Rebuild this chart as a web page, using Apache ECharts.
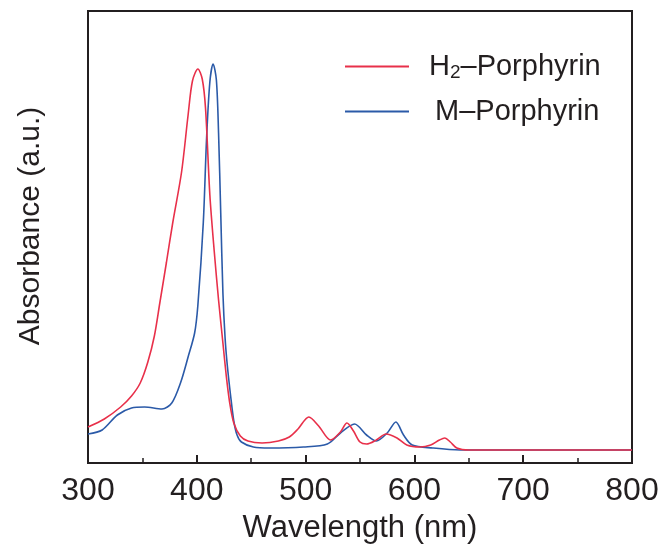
<!DOCTYPE html>
<html>
<head>
<meta charset="utf-8">
<script src="https://cdn.jsdelivr.net/npm/echarts@6/dist/echarts.min.js"></script>
<style>
  html, body { margin: 0; padding: 0; background: #fff; }
  #chart { width: 662px; height: 554px; }
</style>
</head>
<body>
<div id="chart"></div>
<script>
// wavelength (nm) / absorbance (a.u.)
const h2Wavelength = [300, 315, 330, 340, 348, 355, 361, 366, 372, 378, 386, 392, 396, 401, 405, 408, 412, 416, 420, 424, 427, 430, 434, 440, 447, 460, 475, 485, 493, 503, 512, 523, 532, 538, 544, 550, 556, 565, 574, 584, 593, 605, 615, 623, 628, 633, 639, 650, 800];
const h2Absorb = [36, 44, 56, 67, 80, 101, 127, 160, 200, 241, 291, 348, 382, 394, 384, 355, 268, 212, 163, 120, 88, 62, 40, 27, 22, 20, 22, 26, 34, 46, 37, 23, 31, 40, 32, 21, 19, 23, 29, 25, 18, 16, 18, 23, 25, 21, 15, 13, 13];

const mWavelength = [300, 313, 327, 340, 352, 368, 377, 385, 392, 398, 401, 406, 409, 412, 415, 418, 420, 422, 424, 426, 428, 431, 434, 437, 441, 452, 467, 498, 520, 532, 545, 556, 565, 575, 583, 590, 598, 617, 642, 800];
const mAbsorb = [29, 33, 48, 55, 56, 54, 60, 80, 106, 130, 158, 241, 325, 381, 399, 383, 330, 250, 170, 125, 98, 68, 42, 28, 21, 16, 15, 16, 19, 30, 39, 28, 22, 30, 41, 28, 18, 15, 13, 13];

const xTicks = [300, 400, 500, 600, 700, 800];

const chart = echarts.init(document.getElementById('chart'));
const font = 'Liberation Sans, Arial, sans-serif';
const axisColor = '#231f20';

const option = {
    animation: false,
    grid: {
        left: 88, right: 30, top: 11, bottom: 91,
        show: true,
        borderColor: axisColor,
        borderWidth: 2
    },
    legend: [
        {
            data: ['H2'],
            left: 340, top: 47,
            icon: 'rect',
            itemWidth: 64, itemHeight: 2,
            formatter: () => '{n|H}{s|2}{n|–Porphyrin}',
            textStyle: {
                padding: [0, 0, 0, 15],
                rich: {
                    n: { fontSize: 29, fontFamily: font, color: axisColor },
                    s: { fontSize: 19, fontFamily: font, color: axisColor, verticalAlign: 'bottom', padding: [13, 0, 0, 0] }
                }
            }
        },
        {
            data: ['M'],
            left: 340, top: 92,
            icon: 'rect',
            itemWidth: 64, itemHeight: 2,
            formatter: () => 'M–Porphyrin',
            textStyle: { fontSize: 29, fontFamily: font, color: axisColor, padding: [0, 0, 0, 21] }
        }
    ],
    xAxis: {
        type: 'value',
        min: 300, max: 800, interval: 100,
        name: 'Wavelength (nm)',
        nameLocation: 'middle',
        nameGap: 50,
        nameTextStyle: { fontSize: 31, fontFamily: font, color: axisColor },
        axisLine: { lineStyle: { color: axisColor, width: 2 } },
        axisTick: { inside: true, length: 8, lineStyle: { color: axisColor, width: 2 } },
        minorTick: { show: true, splitNumber: 2, length: 5, lineStyle: { color: axisColor, width: 1.5 } },
        axisLabel: {
            fontSize: 32, fontFamily: font, color: axisColor, margin: 12,
            formatter: v => xTicks.includes(v) ? String(v) : ''
        },
        splitLine: { show: false }
    },
    yAxis: {
        type: 'value',
        min: 0, max: 452,
        name: 'Absorbance (a.u.)',
        nameLocation: 'middle',
        nameGap: 42,
        nameTextStyle: { fontSize: 30, fontFamily: font, color: axisColor, padding: [0, 0, 0, 22] },
        axisLine: { show: true, lineStyle: { color: axisColor, width: 2 } },
        axisTick: { show: false },
        axisLabel: { show: false },
        splitLine: { show: false }
    },
    series: [
        {
            name: 'H2',
            type: 'line',
            smooth: 0.3,
            symbol: 'none',
            lineStyle: { color: '#e8304a', width: 1.6 },
            itemStyle: { color: '#e8304a' },
            data: h2Wavelength.map((w, i) => [w, h2Absorb[i]]),
            z: 3
        },
        {
            name: 'M',
            type: 'line',
            smooth: 0.3,
            symbol: 'none',
            lineStyle: { color: '#2b5aa8', width: 1.6 },
            itemStyle: { color: '#2b5aa8' },
            data: mWavelength.map((w, i) => [w, mAbsorb[i]]),
            z: 2
        }
    ]
};
chart.setOption(option);
</script>
</body>
</html>
